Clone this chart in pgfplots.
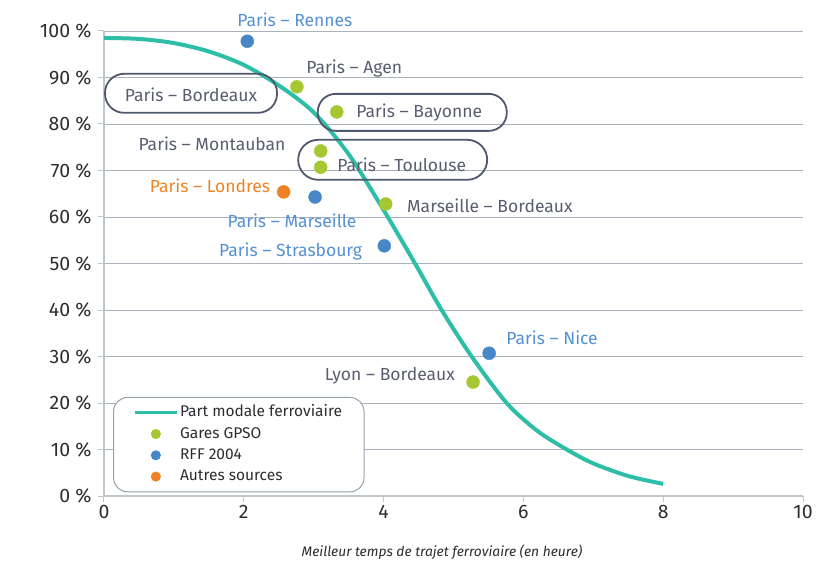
\documentclass[border=0pt]{standalone}
\usepackage{fontspec}
\setmainfont{Fira Sans}
\usepackage{pgfplots}
\pgfplotsset{compat=1.18}

\definecolor{courbe}{RGB}{46,190,168}
\definecolor{vert}{RGB}{165,200,50}
\definecolor{bleu}{RGB}{70,135,200}
\definecolor{bleutxt}{RGB}{85,145,210}
\definecolor{orange}{RGB}{240,130,35}
\definecolor{gristxt}{RGB}{88,94,112}
\definecolor{boite}{RGB}{80,88,110}
\definecolor{grille}{RGB}{170,178,188}
\definecolor{axegris}{RGB}{190,197,205}
\definecolor{legendgris}{RGB}{150,160,172}
\definecolor{ticktxt}{RGB}{45,45,50}

\begin{document}
\begin{tikzpicture}
\begin{axis}[
    name=ax, at={(0,0)}, anchor=south west,
    scale only axis, width=699pt, height=465pt,
    xmin=0, xmax=10, ymin=0, ymax=100,
    xtick={0,2,...,10}, ytick={0,10,...,100},
    axis x line*=bottom, axis y line*=left,
    axis line style={draw=axegris, line width=1.6pt, -},
    ymajorgrids, grid style={draw=grille, line width=0.9pt},
    tick align=outside, major tick length=6pt,
    tick style={draw=axegris, line width=1pt},
    /pgf/number format/assume math mode=true,
    ticklabel style={font=\fontsize{19.5}{22}\selectfont\addfontfeatures{Numbers=Lining}, text=ticktxt},
    yticklabel style={xshift=-3pt},
    yticklabel={\pgfmathprintnumber{\tick}\ \%},
    xlabel={Meilleur temps de trajet ferroviaire (en heure)},
    xlabel style={font=\itshape\fontsize{13.8}{16}\selectfont, text=ticktxt,
        at={(axis description cs:0.4835,0)}, anchor=center, yshift=-56pt},
    clip=false,
    legend cell align=left,
    legend style={at={(axis cs:0.13,21.3)}, anchor=north west,
        draw=legendgris, line width=1pt, rounded corners=14pt, fill=white,
        font=\fontsize{15.5}{18}\selectfont, text=ticktxt,
        inner xsep=20pt, inner ysep=6pt, row sep=2.8pt,
        nodes={inner sep=2pt, text height=11.5pt, text depth=3pt}},
]
% courbe de part modale
\addplot[courbe, line width=4pt, smooth,
    legend image code/.code={\draw[courbe, line width=2.5pt] (0pt,0pt) -- (42pt,0pt);}]
  coordinates {(0,98.5) (0.5,98.3) (1,97.4) (1.5,95.6) (2,92.7) (2.5,88.3)
               (3,82.5) (3.5,73.5) (4,61.5) (4.45,50) (4.83,40) (5.26,30)
               (5.76,20) (6.2,14) (6.62,10) (7,7) (7.5,4.3) (8,2.6)};
\addlegendentry{Part modale ferroviaire}

% Gares GPSO
\addplot[only marks, mark=*, mark size=6.5pt, mark options={draw=vert, fill=vert},
    legend image code/.code={\fill[vert] (21pt,0pt) circle (4.5pt);}]
  coordinates {(2.76,88) (3.33,82.6) (3.10,74.2) (3.10,70.7) (4.03,62.8) (5.28,24.5)};
\addlegendentry{Gares GPSO}

% RFF 2004
\addplot[only marks, mark=*, mark size=6.5pt, mark options={draw=bleu, fill=bleu},
    legend image code/.code={\fill[bleu] (21pt,0pt) circle (4.5pt);}]
  coordinates {(2.05,97.8) (3.02,64.3) (4.01,53.8) (5.51,30.7)};
\addlegendentry{RFF 2004}

% Autres sources
\addplot[only marks, mark=*, mark size=6.5pt, mark options={draw=orange, fill=orange},
    legend image code/.code={\fill[orange] (21pt,0pt) circle (4.5pt);}]
  coordinates {(2.57,65.4)};
\addlegendentry{Autres sources}

% encadres
\begin{scope}[every node/.style={draw=boite, line width=1.8pt, inner sep=0pt}]
\node[rounded corners=19pt, minimum width=172pt, minimum height=39pt] at (axis cs:1.245,86.6) {};
\node[rounded corners=18pt, minimum width=189pt, minimum height=37pt] at (axis cs:4.41,82.5) {};
\node[rounded corners=20pt, minimum width=189pt, minimum height=40pt] at (axis cs:4.13,72.3) {};
\end{scope}

% etiquettes
\begin{scope}[every node/.style={font=\fontsize{17.5}{20}\selectfont, inner sep=0pt}]
\node[text=bleutxt] at (axis cs:2.73,102.4) {Paris -- Rennes};
\node[text=gristxt] at (axis cs:3.58,92.0) {Paris -- Agen};
\node[text=gristxt] at (axis cs:1.245,86.2) {Paris -- Bordeaux};
\node[text=gristxt] at (axis cs:4.51,82.4) {Paris -- Bayonne};
\node[text=gristxt] at (axis cs:1.545,75.7) {Paris -- Montauban};
\node[text=gristxt] at (axis cs:4.26,71.2) {Paris -- Toulouse};
\node[text=orange] at (axis cs:1.517,66.7) {Paris -- Londres};
\node[text=bleutxt] at (axis cs:2.69,59.1) {Paris -- Marseille};
\node[text=gristxt] at (axis cs:5.52,62.4) {Marseille -- Bordeaux};
\node[text=bleutxt] at (axis cs:2.67,52.5) {Paris -- Strasbourg};
\node[text=bleutxt] at (axis cs:6.41,34.0) {Paris -- Nice};
\node[text=gristxt] at (axis cs:4.09,25.8) {Lyon -- Bordeaux};
\end{scope}
\end{axis}
\pgfresetboundingbox
\path ([shift={(-104pt,-67pt)}]ax.south west) rectangle ([shift={(726pt,496pt)}]ax.south west);
\end{tikzpicture}
\end{document}
